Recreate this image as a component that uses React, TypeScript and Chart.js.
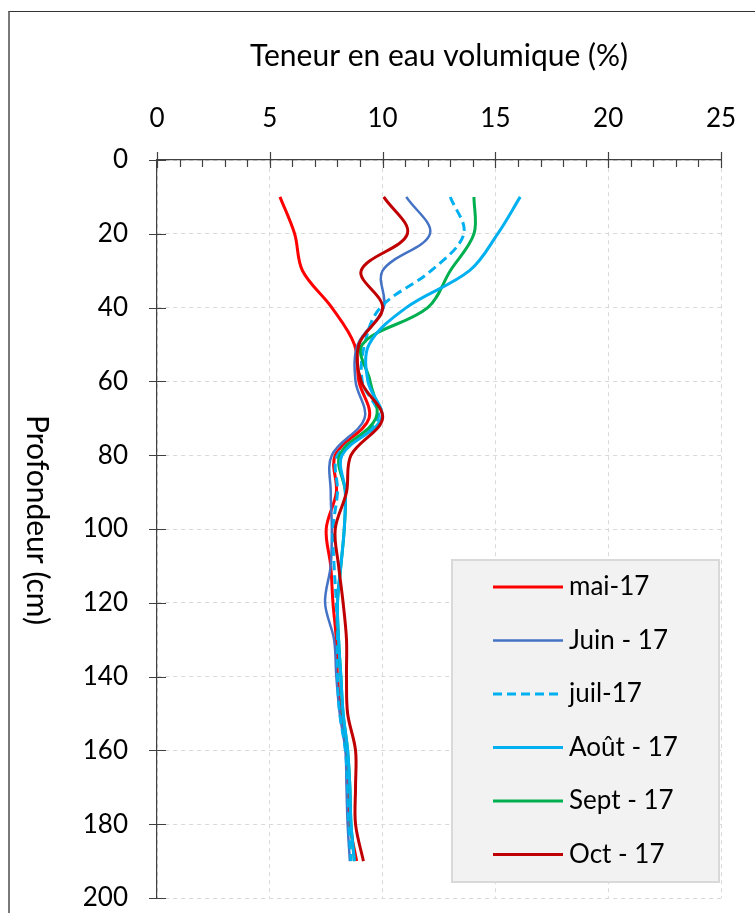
import React, { useEffect, useRef } from "react";
import { Chart, registerables } from "chart.js";

Chart.register(...registerables);

const depths = [10, 20, 30, 40, 50, 60, 70, 80, 90, 100, 110, 120, 130, 140, 150, 160, 170, 180, 190];
const mai17 = [5.45, 6.1, 6.45, 7.75, 8.75, 8.95, 9.4, 7.9, 7.95, 7.5, 7.7, 7.8, 7.95, 8.0, 8.15, 8.4, 8.5, 8.55, 8.85];
const juin17 = [11.05, 12.1, 10.0, 10.05, 8.9, 8.8, 9.2, 7.75, 7.7, 7.75, 7.7, 7.45, 7.85, 7.95, 8.1, 8.35, 8.4, 8.45, 8.55];
const juil17 = [13.0, 13.6, 12.15, 9.9, 9.2, 9.1, 9.8, 8.0, 8.0, 7.8, 7.85, 7.95, 8.0, 8.0, 8.1, 8.35, 8.45, 8.5, 8.6];
const aout17 = [16.1, 15.1, 13.85, 11.05, 9.4, 9.35, 9.95, 8.2, 8.35, 8.3, 8.15, 8.0, 8.05, 8.15, 8.25, 8.45, 8.55, 8.6, 8.75];
const sept17 = [14.05, 14.05, 13.0, 12.0, 9.1, 9.45, 9.7, 8.1, 8.35, 8.3, 8.15, 8.0, 8.05, 8.15, 8.25, 8.45, 8.55, 8.6, 8.75];
const oct17 = [10.05, 11.1, 9.05, 10.0, 8.95, 9.05, 10.0, 8.6, 8.4, 7.9, 8.05, 8.25, 8.4, 8.4, 8.45, 8.8, 8.8, 8.8, 9.15];

const seriesLabels = ["mai-17", "Juin - 17", "juil-17", "Août - 17", "Sept - 17", "Oct - 17"];
const xTitle = "Teneur en eau volumique (%)";
const yTitle = "Profondeur (cm)";

const FONT = "Lato, 'Open Sans', sans-serif";

const toPoints = (vals: number[]) => vals.map((v, i) => ({ x: v, y: depths[i] }));

const axisTicksPlugin = {
  id: "axisTicks",
  afterDatasetsDraw(chart: any) {
    const ctx = chart.ctx;
    const xs = chart.scales.x;
    const ys = chart.scales.y;
    const top = chart.chartArea.top;
    const left = chart.chartArea.left;
    ctx.save();
    ctx.strokeStyle = "#404040";
    ctx.lineWidth = 1.2;
    ctx.beginPath();
    for (let v = xs.min; v <= xs.max; v += 1) {
      const px = Math.round(xs.getPixelForValue(v)) + 0.5;
      if (v % 5 === 0) {
        ctx.moveTo(px, top - 8);
        ctx.lineTo(px, top + 8);
      } else {
        ctx.moveTo(px, top);
        ctx.lineTo(px, top + 7);
      }
    }
    ys.ticks.forEach((t: any) => {
      const py = Math.round(ys.getPixelForValue(t.value)) + 0.5;
      ctx.moveTo(left - 8, py);
      ctx.lineTo(left + 9, py);
    });
    ctx.stroke();
    ctx.restore();
  },
};

const yTitlePlugin = {
  id: "yTitleCW",
  afterDraw(chart: any) {
    const ctx = chart.ctx;
    const ca = chart.chartArea;
    ctx.save();
    ctx.translate(37, (ca.top + ca.bottom) / 2 - 9);
    ctx.rotate(Math.PI / 2);
    ctx.font = `30px ${FONT}`;
    ctx.fillStyle = "#000000";
    ctx.textAlign = "center";
    ctx.textBaseline = "middle";
    ctx.fillText(yTitle, 0, 0);
    ctx.restore();
  },
};

const legendPlugin = {
  id: "boxLegend",
  afterDraw(chart: any) {
    const ctx = chart.ctx;
    const bx = 452, by = 560, bw = 267, bh = 322;
    ctx.save();
    ctx.fillStyle = "#f2f2f2";
    ctx.fillRect(bx, by, bw, bh);
    ctx.strokeStyle = "#d9d9d9";
    ctx.lineWidth = 2;
    ctx.strokeRect(bx, by, bw, bh);
    chart.data.datasets.forEach((ds: any, i: number) => {
      const cy = by + 27 + i * 53.5;
      ctx.beginPath();
      ctx.strokeStyle = ds.borderColor;
      ctx.lineWidth = ds.borderWidth;
      ctx.setLineDash(ds.borderDash || []);
      ctx.moveTo(493, cy);
      ctx.lineTo(563, cy);
      ctx.stroke();
      ctx.setLineDash([]);
      ctx.font = `26px ${FONT}`;
      ctx.fillStyle = "#000000";
      ctx.textAlign = "left";
      ctx.textBaseline = "middle";
      ctx.fillText(ds.label, 569, cy);
    });
    ctx.restore();
  },
};

export default function App() {
  const canvasRef = useRef<HTMLCanvasElement | null>(null);

  useEffect(() => {
    if (!canvasRef.current) return;
    const common = { showLine: true, pointRadius: 0, pointHoverRadius: 0, tension: 0.35, fill: false };
    const chart = new Chart(canvasRef.current, {
      type: "scatter",
      data: {
        datasets: [
          { ...common, label: seriesLabels[0], data: toPoints(mai17), borderColor: "#ff0000", borderWidth: 3, order: 6 },
          { ...common, label: seriesLabels[1], data: toPoints(juin17), borderColor: "#4472c4", borderWidth: 2.5, order: 5 },
          { ...common, label: seriesLabels[2], data: toPoints(juil17), borderColor: "#00b0f0", borderWidth: 3, borderDash: [9, 5], order: 4 },
          { ...common, label: seriesLabels[3], data: toPoints(aout17), borderColor: "#00b0f0", borderWidth: 3, order: 2 },
          { ...common, label: seriesLabels[4], data: toPoints(sept17), borderColor: "#00b050", borderWidth: 3, order: 3 },
          { ...common, label: seriesLabels[5], data: toPoints(oct17), borderColor: "#c00000", borderWidth: 3, order: 1 },
        ],
      },
      options: {
        responsive: false,
        animation: false,
        devicePixelRatio: 1,
        layout: { padding: { left: 0, top: 0, right: 34, bottom: 15 } },
        plugins: { legend: { display: false }, tooltip: { enabled: false } },
        scales: {
          x: {
            type: "linear",
            position: "top",
            min: 0,
            max: 25,
            ticks: { stepSize: 5, padding: 26, color: "#000000", font: { family: FONT, size: 26, lineHeight: 1.2 } },
            grid: { color: "#d9d9d9", lineWidth: 1, drawTicks: false },
            border: { display: true, color: "#404040", width: 1.2, dash: [4, 4] },
            title: { display: true, text: xTitle, color: "#000000", padding: { top: 38, bottom: 0 }, font: { family: FONT, size: 30, lineHeight: 1.2 } },
            afterFit: (s: any) => { s.height = 160; s.paddingLeft = 0; s.paddingRight = 0; },
          },
          y: {
            type: "linear",
            position: "left",
            reverse: true,
            min: 0,
            max: 200,
            ticks: { stepSize: 20, padding: 29, color: "#000000", font: { family: FONT, size: 26, lineHeight: 1.2 } },
            grid: { color: "#d9d9d9", lineWidth: 1, drawTicks: false },
            border: { display: true, color: "#404040", width: 1.2, dash: [4, 4] },
            afterFit: (s: any) => { s.width = 157; s.paddingTop = 0; s.paddingBottom = 0; },
          },
        },
      },
      plugins: [axisTicksPlugin, yTitlePlugin, legendPlugin],
    } as any);
    return () => chart.destroy();
  }, []);

  return (
    <div style={{ position: "fixed", left: 0, top: 0, width: 755, height: 913, background: "#ffffff", overflow: "hidden" }}>
      <div style={{ position: "absolute", left: 8, top: 11, width: 747, height: 902, borderLeft: "2px solid #7a7a7a", borderTop: "1px solid #333333", boxSizing: "border-box" }} />
      <canvas ref={canvasRef} width={755} height={913} style={{ position: "absolute", left: 0, top: 0, width: 755, height: 913 }} />
    </div>
  );
}
